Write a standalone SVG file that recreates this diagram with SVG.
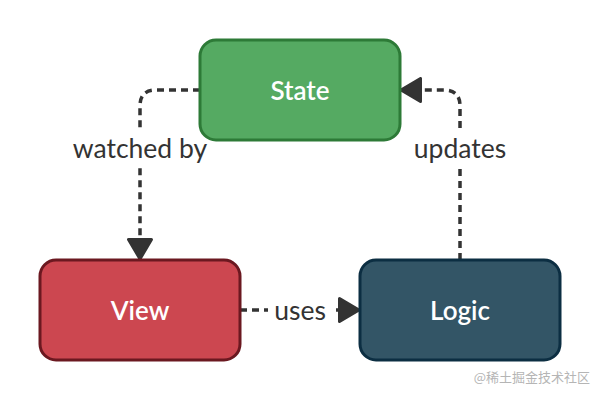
<svg xmlns="http://www.w3.org/2000/svg" width="600" height="401" viewBox="0 0 600 401">
<style>
.node{stroke-width:3}
.nt{font-family:Lato,"Liberation Sans",sans-serif;font-size:26px;font-weight:600;fill:#fff;text-anchor:middle;dominant-baseline:central}
.lbl{font-family:Lato,"Liberation Sans",sans-serif;font-size:26.5px;fill:#333;text-anchor:middle;dominant-baseline:central}
.edge{fill:none;stroke:#333;stroke-width:3.5;stroke-dasharray:7 5}
</style>
<defs>
<marker id="ah" viewBox="0 0 22 26" refX="21" refY="13" markerWidth="22" markerHeight="26" markerUnits="userSpaceOnUse" orient="auto">
<path d="M1.5,1.5 L21,13 L1.5,24.5 Z" fill="#333" stroke="#333" stroke-width="3" stroke-linejoin="round"/>
</marker>
</defs>
<rect width="600" height="401" fill="#fff"/>
<g id="edges">
<path class="edge" d="M200,90 H156 Q140,90 140,106 V259" marker-end="url(#ah)"/>
<rect x="66" y="132" width="148" height="32" fill="#fff"/>
<text class="lbl" x="140" y="148">watched by</text>
<path class="edge" d="M460,260 V106 Q460,90 444,90 H401" marker-end="url(#ah)"/>
<rect x="408" y="132" width="104" height="32" fill="#fff"/>
<text class="lbl" x="460" y="148">updates</text>
<path class="edge" d="M240,310 H359" marker-end="url(#ah)"/>
<rect x="268" y="294" width="64" height="32" fill="#fff"/>
<text class="lbl" x="300" y="310">uses</text>
</g>
<g id="state">
<rect class="node" x="200" y="40" width="200" height="100" rx="16" fill="#55aa62" stroke="#2d7a37"/>
<text class="nt" x="300" y="90">State</text>
</g>
<g id="view">
<rect class="node" x="40" y="260" width="200" height="100" rx="16" fill="#cc4750" stroke="#6b1820"/>
<text class="nt" x="140" y="310">View</text>
</g>
<g id="logic">
<rect class="node" x="360" y="260" width="200" height="100" rx="16" fill="#335566" stroke="#0c2e42"/>
<text class="nt" x="460" y="310">Logic</text>
</g>
<text x="590" y="382" font-family="'Noto Sans CJK SC',sans-serif" font-size="13" fill="#b5b5b5" text-anchor="end">@稀土掘金技术社区</text>
</svg>
